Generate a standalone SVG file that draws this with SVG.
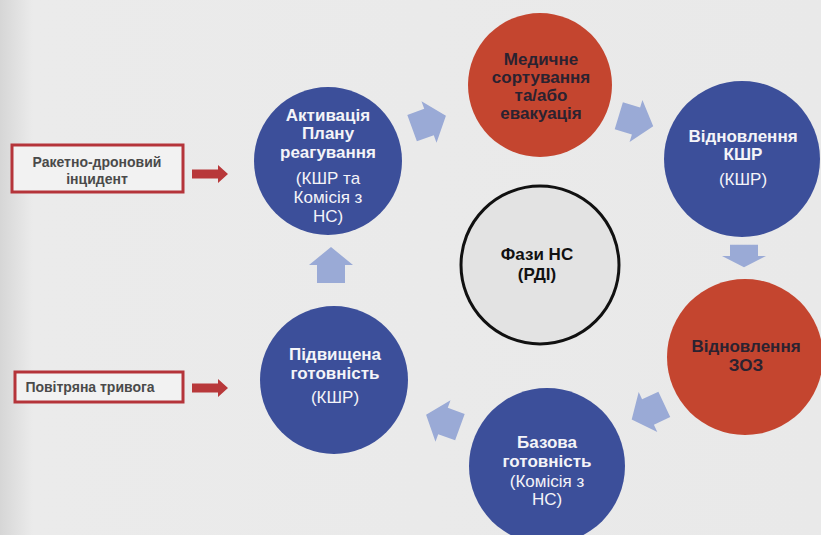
<svg xmlns="http://www.w3.org/2000/svg" width="821" height="535" viewBox="0 0 821 535">
<defs>
<linearGradient id="bg" x1="0" y1="0" x2="1" y2="0">
<stop offset="0" stop-color="#d6d6d6"/>
<stop offset="0.04" stop-color="#ebebeb"/>
<stop offset="1" stop-color="#e9e9e9"/>
</linearGradient>
<polygon id="arr" points="-18,-14 0,-14 0,-22 18,0 0,22 0,14 -18,14"/>
<polygon id="redarr" points="-18,-4.5 8,-4.5 8,-9 18,0 8,9 8,4.5 -18,4.5"/>
</defs>
<style>
.blue{fill:#3c4f9a}
.red{fill:#c4452f}
.center{fill:#e3e3e3;stroke:#111;stroke-width:3}
.ca{fill:#9aaad6}
.ra{fill:#b8383a}
.box{fill:#f2f2f2;stroke:#b5343a;stroke-width:3}
text{font-family:"Liberation Sans",Arial,sans-serif;text-anchor:middle}
.wt{fill:#f4f4f8;font-weight:bold;font-size:17px}
.ws{fill:#f4f4f8;font-size:17px}
.dt{fill:#2b2230;font-weight:bold;font-size:17px}
.ct{fill:#111;font-weight:bold;font-size:17px}
.lt{fill:#4a4a4a;font-weight:bold;font-size:14px}
</style>
<rect x="0" y="0" width="821" height="535" fill="url(#bg)"/>
<g id="connectors">
<use href="#arr" class="ca" transform="translate(429,122) rotate(-20)"/>
<use href="#arr" class="ca" transform="translate(636,121) rotate(17)"/>
<use href="#arr" class="ca" transform="translate(744,256) rotate(90) scale(0.62,1)"/>
<use href="#arr" class="ca" transform="translate(648,412) rotate(155)"/>
<use href="#arr" class="ca" transform="translate(443,421) rotate(200)"/>
<use href="#arr" class="ca" transform="translate(331,265) rotate(-90)"/>
<use href="#redarr" class="ra" transform="translate(210,174)"/>
<use href="#redarr" class="ra" transform="translate(210,388)"/>
</g>
<g id="node-incident">
<rect class="box" x="12" y="145" width="171" height="47"/>
<text class="lt" x="97" y="167" font-size="14.5">Ракетно-дроновий</text>
<text class="lt" x="97" y="184" font-size="14.5">інцидент</text>
</g>
<g id="node-alarm">
<rect class="box" x="15" y="372" width="168" height="30"/>
<text class="lt" x="90" y="392">Повітряна тривога</text>
</g>
<g id="node-activation">
<circle class="blue" cx="328" cy="161" r="74"/>
<text class="wt" x="328" y="121" font-size="16">Активація</text>
<text class="wt" x="328" y="139" font-size="16">Плану</text>
<text class="wt" x="328" y="158" font-size="16">реагування</text>
<text class="ws" x="328" y="184" font-size="17">(КШР та</text>
<text class="ws" x="328" y="203" font-size="17">Комісія з</text>
<text class="ws" x="328" y="222" font-size="17">НС)</text>
</g>
<g id="node-triage">
<circle class="red" cx="540" cy="85" r="72"/>
<text class="dt" x="541" y="65" font-size="14">Медичне</text>
<text class="dt" x="541" y="83" font-size="14">сортування</text>
<text class="dt" x="541" y="101" font-size="14">та/або</text>
<text class="dt" x="541" y="119" font-size="14">евакуація</text>
</g>
<g id="node-kshr">
<circle class="blue" cx="742" cy="159" r="78"/>
<text class="wt" x="743" y="142" font-size="16.5">Відновлення</text>
<text class="wt" x="743" y="160" font-size="16.5">КШР</text>
<text class="ws" x="743" y="185">(КШР)</text>
</g>
<g id="node-zoz">
<circle class="red" cx="745" cy="357" r="78"/>
<text class="dt" x="746" y="352">Відновлення</text>
<text class="dt" x="746" y="371">ЗОЗ</text>
</g>
<g id="node-basic">
<circle class="blue" cx="547" cy="466" r="78"/>
<text class="wt" x="547" y="448" font-size="16.5">Базова</text>
<text class="wt" x="547" y="467" font-size="16.5">готовність</text>
<text class="ws" x="547" y="487" font-size="16">(Комісія з</text>
<text class="ws" x="547" y="505" font-size="16">НС)</text>
</g>
<g id="node-elevated">
<circle class="blue" cx="334" cy="380" r="74"/>
<text class="wt" x="335" y="360">Підвищена</text>
<text class="wt" x="335" y="379">готовність</text>
<text class="ws" x="335" y="403">(КШР)</text>
</g>
<g id="node-center">
<circle class="center" cx="540" cy="265" r="79"/>
<text class="ct" x="537" y="260">Фази НС</text>
<text class="ct" x="537" y="280">(РДІ)</text>
</g>
</svg>
